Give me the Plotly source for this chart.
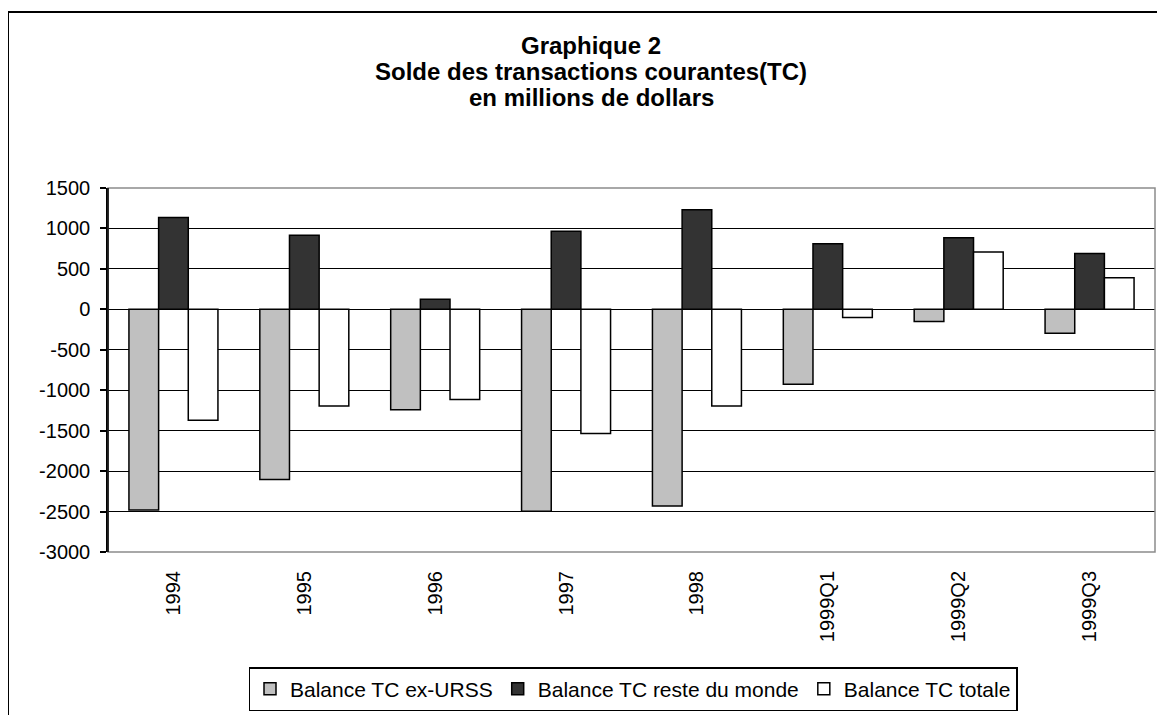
import plotly.graph_objects as go

categories = ["1994", "1995", "1996", "1997", "1998", "1999Q1", "1999Q2", "1999Q3"]
ex_urss = [-2480, -2105, -1240, -2495, -2430, -925, -150, -295]
reste_monde = [1135, 915, 125, 965, 1230, 810, 885, 690]
totale = [-1370, -1195, -1115, -1535, -1195, -100, 710, 390]

series_names = ["Balance TC ex-URSS", "Balance TC reste du monde", "Balance TC totale"]
series_colors = ["#C0C0C0", "#333333", "#FFFFFF"]

title_lines = ["Graphique 2", "Solde des transactions courantes(TC)", "en millions de dollars"]

y_min, y_max, y_step = -3000, 1500, 500
y_ticks = list(range(y_min, y_max + 1, y_step))
y_labels = [str(v) for v in y_ticks]

FONT = "Arial, Liberation Sans, sans-serif"

OFF = 8  # page body margin
W, H = 1165 - OFF, 715 - OFF
# plot area in page pixels: x 108..1155, y 188..552
L = 108 - OFF
R = W - (1155 - OFF)
T = 188 - OFF
B = H - (552 - OFF)
plot_w = W - L - R
plot_h = H - T - B


def px_to_paper_x(px):
    return (px - OFF - L) / plot_w


def px_to_paper_y(py):
    return (H - B - (py - OFF)) / plot_h


fig = go.Figure()
for name, vals, col in zip(series_names, [ex_urss, reste_monde, totale], series_colors):
    fig.add_trace(go.Bar(
        x=categories, y=vals, name=name,
        marker=dict(color=col, line=dict(color="black", width=1.5)),
    ))

fig.update_layout(
    width=W, height=H,
    margin=dict(l=L, r=R, t=T, b=B, autoexpand=False),
    paper_bgcolor="white", plot_bgcolor="white",
    barmode="group", bargap=0.32, bargroupgap=0,
    font=dict(family=FONT, size=20, color="black"),
    showlegend=True,
    legend=dict(
        orientation="h", x=px_to_paper_x(633), xanchor="center",
        y=px_to_paper_y(667), yanchor="top",
        bordercolor="black", borderwidth=1.5,
        font=dict(size=21, family=FONT, color="black"),
        itemwidth=30, tracegroupgap=0,
    ),
    xaxis=dict(
        type="category", categoryorder="array", categoryarray=categories,
        range=[-0.5, len(categories) - 0.5],
        showline=False, showgrid=False, ticks="", tickangle=-90,
        tickfont=dict(size=20, family=FONT),
        ticklabelstandoff=14, automargin=False,
    ),
    xaxis2=dict(
        type="category", categoryorder="array", categoryarray=categories,
        range=[-0.5, len(categories) - 0.5],
        overlaying="x", anchor="free",
        position=(0 - y_min) / (y_max - y_min),
        showline=True, linecolor="black", linewidth=1.5,
        ticks="outside", ticklen=6, tickwidth=1.5, tickcolor="black",
        tickson="boundaries", showticklabels=False, showgrid=False,
        side="bottom",
    ),
    yaxis=dict(
        range=[y_min, y_max], tickmode="array", tickvals=y_ticks, ticktext=y_labels,
        showline=True, linecolor="black", linewidth=1.5,
        ticks="outside", ticklen=6, tickwidth=1.5, tickcolor="black",
        showgrid=True, gridcolor="black", gridwidth=1.2,
        zeroline=False,
        tickfont=dict(size=20, family=FONT),
        ticklabelstandoff=6, automargin=False,
    ),
)

# plot area grey border (top/right/bottom)
fig.add_shape(type="rect", xref="paper", yref="paper", x0=0, x1=1, y0=0, y1=1,
              line=dict(color="#8C8C8C", width=1.5), layer="above")
# black left axis line on top of the border
fig.add_shape(type="line", xref="paper", yref="paper", x0=0, x1=0, y0=0, y1=1,
              line=dict(color="black", width=1.5), layer="above")
# outer chart frame
fig.add_shape(type="rect", xref="paper", yref="paper",
              x0=px_to_paper_x(8), x1=px_to_paper_x(1185),
              y0=px_to_paper_y(735), y1=px_to_paper_y(12),
              line=dict(color="black", width=2), layer="above")

title_px = [45, 71, 97]
for txt, py in zip(title_lines, title_px):
    fig.add_annotation(
        text="<b>%s</b>" % txt, xref="paper", yref="paper",
        x=px_to_paper_x(591), y=px_to_paper_y(py),
        xanchor="center", yanchor="middle", showarrow=False,
        font=dict(size=24, family=FONT, color="black"),
    )

fig.write_html("out.html")
